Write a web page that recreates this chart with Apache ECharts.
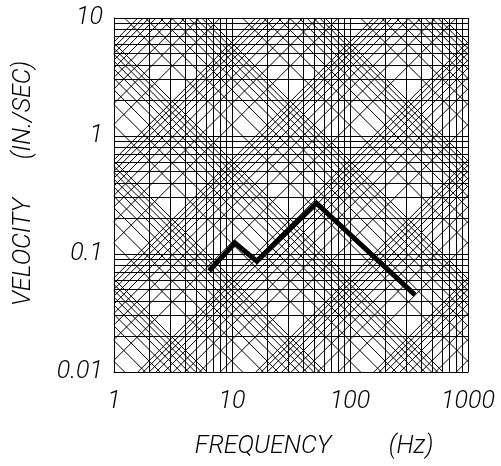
<!DOCTYPE html>
<html><head><meta charset="utf-8">
<script src="https://cdn.jsdelivr.net/npm/echarts@6/dist/echarts.min.js"></script>
<style>html,body{margin:0;padding:0;background:#fff}#c{width:501px;height:466px}</style>
</head><body><div id="c"></div>
<script>
// Spectrum curve (frequency Hz, velocity in/s)
const freq = [6.4, 10.6, 16.2, 52, 355];
const velocity = [0.072, 0.124, 0.087, 0.27, 0.045];
// Axis ticks
const xTickLabels = ['1', '10', '100', '1000'];
const yTickLabels = ['0.01', '0.1', '1', '10'];
// Tripartite grid multipliers per decade
const multipliers = [1, 2, 3, 4, 5, 6, 7, 8, 9];
const xRange = [1, 1000];
const yRange = [0.01, 10];
const gravity = 386.09; // in/s^2

const FONT = "Roboto, 'Liberation Sans', sans-serif";
const TXT = "italic 300 25px " + FONT;
const segs = [];
// vertical / horizontal log grid
for (let n = 0; n <= 3; n++) for (const k of multipliers) {
  const f = k * Math.pow(10, n);
  if (f >= xRange[0] && f <= xRange[1] + 1e-9) segs.push([[f, yRange[0]], [f, yRange[1]]]);
}
for (let n = -2; n <= 1; n++) for (const k of multipliers) {
  const v = k * Math.pow(10, n);
  if (v >= yRange[0] - 1e-12 && v <= yRange[1] + 1e-9) segs.push([[xRange[0], v], [xRange[1], v]]);
}
// constant displacement lines: V = 2*pi*f*D
for (let n = -7; n <= 1; n++) for (const k of multipliers) {
  const D = k * Math.pow(10, n);
  const c = 2 * Math.PI * D;
  const lo = Math.max(xRange[0], yRange[0] / c), hi = Math.min(xRange[1], yRange[1] / c);
  if (hi > lo * 1.001) segs.push([[lo, c * lo], [hi, c * hi]]);
}
// constant acceleration lines: V = A*g/(2*pi*f)
for (let n = -5; n <= 3; n++) for (const k of multipliers) {
  const A = k * Math.pow(10, n);
  const a = A * gravity / (2 * Math.PI);
  const lo = Math.max(xRange[0], a / yRange[1]), hi = Math.min(xRange[1], a / yRange[0]);
  if (hi > lo * 1.001) segs.push([[lo, a / lo], [hi, a / hi]]);
}

const chart = echarts.init(document.getElementById('c'), null, {renderer: 'canvas'});
const labelStyle = {color: '#000', fontSize: 25, fontStyle: 'italic', fontWeight: 300, fontFamily: FONT};
chart.setOption({
  animation: false,
  backgroundColor: '#fff',
  grid: {left: 114, top: 18, width: 354, height: 354},
  xAxis: {
    type: 'log', logBase: 10, min: xRange[0], max: xRange[1],
    axisLine: {show: true, lineStyle: {color: '#000', width: 1}},
    axisTick: {show: false}, splitLine: {show: false}, minorSplitLine: {show: false},
    axisLabel: Object.assign({margin: 17, formatter: v => xTickLabels[Math.round(Math.log10(v))]}, labelStyle)
  },
  yAxis: {
    type: 'log', logBase: 10, min: yRange[0], max: yRange[1],
    axisLine: {show: true, lineStyle: {color: '#000', width: 1}},
    axisTick: {show: false}, splitLine: {show: false}, minorSplitLine: {show: false},
    axisLabel: Object.assign({margin: 11, formatter: v => yTickLabels[Math.round(Math.log10(v)) + 2]}, labelStyle)
  },
  graphic: [
    {type: 'text', x: 24, y: 252, rotation: Math.PI / 2,
     style: {text: 'VELOCITY', fill: '#000', font: TXT, align: 'center', verticalAlign: 'middle'}},
    {type: 'text', x: 24, y: 110, rotation: Math.PI / 2,
     style: {text: '(IN./SEC)', fill: '#000', font: TXT, align: 'center', verticalAlign: 'middle'}},
    {type: 'text', x: 263, y: 447,
     style: {text: 'FREQUENCY', fill: '#000', font: TXT, align: 'center', verticalAlign: 'middle'}},
    {type: 'text', x: 411, y: 447,
     style: {text: '(Hz)', fill: '#000', font: TXT, align: 'center', verticalAlign: 'middle'}}
  ],
  series: [
    {
      type: 'lines', coordinateSystem: 'cartesian2d', silent: true, polyline: false,
      lineStyle: {color: '#000', width: 1, opacity: 1},
      data: segs.map(s => ({coords: s})), z: 2
    },
    {
      type: 'line', data: freq.map((f, i) => [f, velocity[i]]), symbol: 'none',
      lineStyle: {color: '#000', width: 5, join: 'miter'}, z: 5
    }
  ]
});
</script></body></html>
